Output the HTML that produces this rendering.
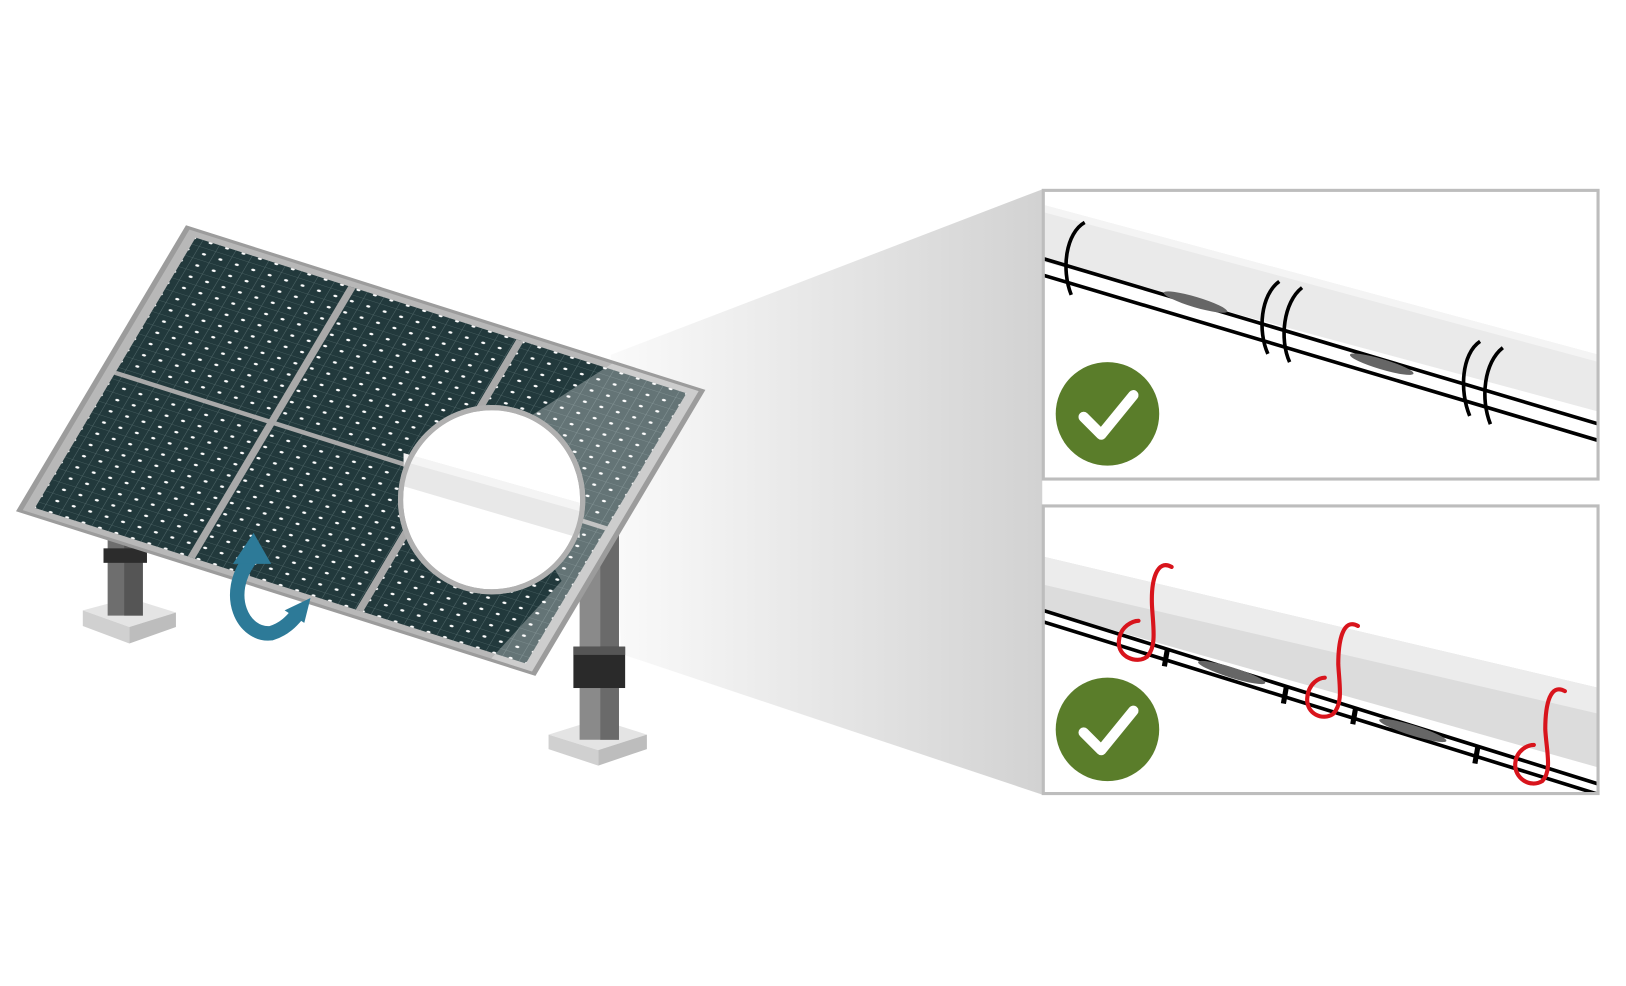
<!DOCTYPE html>
<html><head><meta charset="utf-8"><style>html,body{margin:0;padding:0;background:#fff}svg{display:block}</style></head>
<body>
<svg width="1626" height="986" viewBox="0 0 1571 953" preserveAspectRatio="none" xmlns="http://www.w3.org/2000/svg">
<defs>
<linearGradient id="fun" x1="0" y1="0" x2="1" y2="0">
<stop offset="0" stop-color="#fafafa"/><stop offset="1" stop-color="#d2d2d2"/></linearGradient>
<pattern id="cells" width="32.26" height="40" patternUnits="userSpaceOnUse">
<rect width="32.26" height="40" fill="#22393c"/>
<path d="M0 0.5H32.26M0.5 0V40" stroke="#4f6668" stroke-width="1"/>
<circle cx="16" cy="20" r="3.8" fill="#fff"/>
</pattern>
<clipPath id="cb1"><rect x="1008" y="184" width="536" height="279"/></clipPath>
<clipPath id="cb2"><rect x="1008" y="489" width="536" height="278"/></clipPath>
</defs>
<rect width="1571" height="953" fill="#fff"/>
<!-- funnel -->
<polygon points="590,343 1007,183 1007,768 600,632" fill="url(#fun)"/>
<!-- left post -->
<polygon points="80,590 125,578 170,592 125,606" fill="#e4e4e4"/>
<polygon points="80,590 125,606 125,622 80,605" fill="#d0d0d0"/>
<polygon points="125,606 170,592 170,606 125,622" fill="#bdbdbd"/>
<rect x="104" y="505" width="34" height="90" fill="#6e6e6e"/>
<rect x="120" y="505" width="18" height="90" fill="#555"/>
<rect x="100" y="530" width="42" height="14" fill="#2c2c2c"/>
<!-- right post -->
<polygon points="530,710 578,695 625,710 578,725" fill="#e4e4e4"/>
<polygon points="530,710 578,725 578,740 530,724" fill="#d0d0d0"/>
<polygon points="578,725 625,710 625,724 578,740" fill="#bdbdbd"/>
<rect x="560" y="500" width="38" height="215" fill="#8a8a8a"/>
<rect x="580" y="500" width="18" height="215" fill="#6a6a6a"/>
<rect x="554" y="625" width="50" height="40" fill="#2a2a2a"/>
<rect x="554" y="625" width="50" height="8" fill="#555"/>
<!-- panel -->
<g transform="matrix(0.492,0.156,-0.161,0.271,183,222)">
<rect x="-10" y="-10" width="1020" height="1020" fill="#9c9c9c"/>
<rect x="0" y="0" width="1000" height="1000" fill="#b8b8b8"/>
<rect x="18" y="18" width="964" height="964" fill="url(#cells)"/>
<path d="M325 18V982M655 18V982M18 500H982" stroke="#a9a9a9" stroke-width="14"/>
<polygon points="830,0 1000,0 1000,1000 920,1000 960,700 880,600 720,310" fill="#fff" opacity="0.3"/>
</g>
<!-- magnifier circle -->
<ellipse cx="475" cy="483" rx="88" ry="89" fill="#fff" stroke="#b0b0b0" stroke-width="5"/>
<polygon points="390,438 560,486 560,520 390,470" fill="#e8e8e8"/>
<polygon points="390,438 560,486 560,494 390,446" fill="#f4f4f4"/>
<ellipse cx="475" cy="483" rx="88" ry="89" fill="none" stroke="#b0b0b0" stroke-width="5"/>
<!-- blue arrow -->
<path d="M242 540 C 215 575, 235 615, 262 612 C 275 608, 282 600, 287 594" fill="none" stroke="#2d7a98" stroke-width="14"/>
<polygon points="225,545 245,515 262,545" fill="#2d7a98"/>
<polygon points="275,590 300,578 294,602" fill="#2d7a98"/>
<!-- top box -->
<rect x="1008" y="184" width="536" height="279" fill="#fff"/>
<g clip-path="url(#cb1)">
<polygon points="1008,198 1545,343 1545,398 1008,253" fill="#eaeaea"/>
<polygon points="1008,198 1545,343 1545,350 1008,205" fill="#f4f4f4"/>
<line x1="1008" y1="250" x2="1545" y2="410" stroke="#000" stroke-width="3.5"/>
<line x1="1008" y1="266" x2="1545" y2="426" stroke="#000" stroke-width="3.5"/>
<ellipse cx="1155" cy="292" rx="32" ry="5" transform="rotate(16.6 1155 292)" fill="#666"/>
<ellipse cx="1335" cy="352" rx="32" ry="5" transform="rotate(16.6 1335 352)" fill="#666"/>
<g fill="none" stroke="#000" stroke-width="3.5">
<path d="M1048 215 C1030 225, 1025 260, 1035 285"/>
<path d="M1236 272 C1218 285, 1215 320, 1225 342"/>
<path d="M1258 278 C1240 292, 1236 328, 1246 350"/>
<path d="M1430 330 C1412 342, 1410 378, 1420 402"/>
<path d="M1452 336 C1434 350, 1430 385, 1440 410"/>
</g>
</g>
<rect x="1008" y="184" width="536" height="279" fill="none" stroke="#bdbdbd" stroke-width="3"/>
<circle cx="1070" cy="400" r="50" fill="#5a7d2a"/>
<path d="M1047 403 L1064 420 L1095 382" fill="none" stroke="#fff" stroke-width="10" stroke-linecap="round" stroke-linejoin="round"/>
<!-- bottom box -->
<rect x="1008" y="489" width="536" height="278" fill="#fff"/>
<g clip-path="url(#cb2)">
<polygon points="1008,538 1545,665 1545,742 1008,590" fill="#dcdcdc"/>
<polygon points="1008,538 1545,665 1545,690 1008,565" fill="#ececec"/>
<line x1="1008" y1="590" x2="1545" y2="758" stroke="#000" stroke-width="3.5"/>
<line x1="1008" y1="601" x2="1545" y2="768" stroke="#000" stroke-width="3.5"/>
<ellipse cx="1190" cy="650" rx="34" ry="5" transform="rotate(17.4 1190 650)" fill="#666"/>
<ellipse cx="1365" cy="706" rx="34" ry="5" transform="rotate(17.4 1365 706)" fill="#666"/>
<g stroke="#000" stroke-width="5"><line x1="1128" y1="627" x2="1125" y2="644"/><line x1="1243" y1="663" x2="1240" y2="680"/><line x1="1310" y1="683" x2="1307" y2="700"/><line x1="1428" y1="721" x2="1425" y2="738"/></g>
<g fill="none" stroke="#d8141c" stroke-width="4" stroke-linecap="round">
<path d="M1132 548 C1118 540, 1112 560, 1113 585 C1114 605, 1118 625, 1108 635 C1098 642, 1080 635, 1081 620 C1082 605, 1095 600, 1100 600"/>
<path d="M1312 605 C1298 597, 1293 618, 1293 642 C1294 662, 1298 680, 1288 690 C1278 697, 1262 690, 1263 675 C1264 660, 1275 655, 1280 655"/>
<path d="M1512 668 C1498 660, 1493 680, 1493 705 C1494 725, 1500 745, 1490 755 C1478 762, 1463 752, 1464 738 C1465 725, 1476 720, 1482 720"/>
</g>
</g>
<rect x="1008" y="489" width="536" height="278" fill="none" stroke="#bdbdbd" stroke-width="3"/>
<circle cx="1070" cy="705" r="50" fill="#5a7d2a"/>
<path d="M1047 708 L1064 725 L1095 687" fill="none" stroke="#fff" stroke-width="10" stroke-linecap="round" stroke-linejoin="round"/>
</svg>
</body></html>
